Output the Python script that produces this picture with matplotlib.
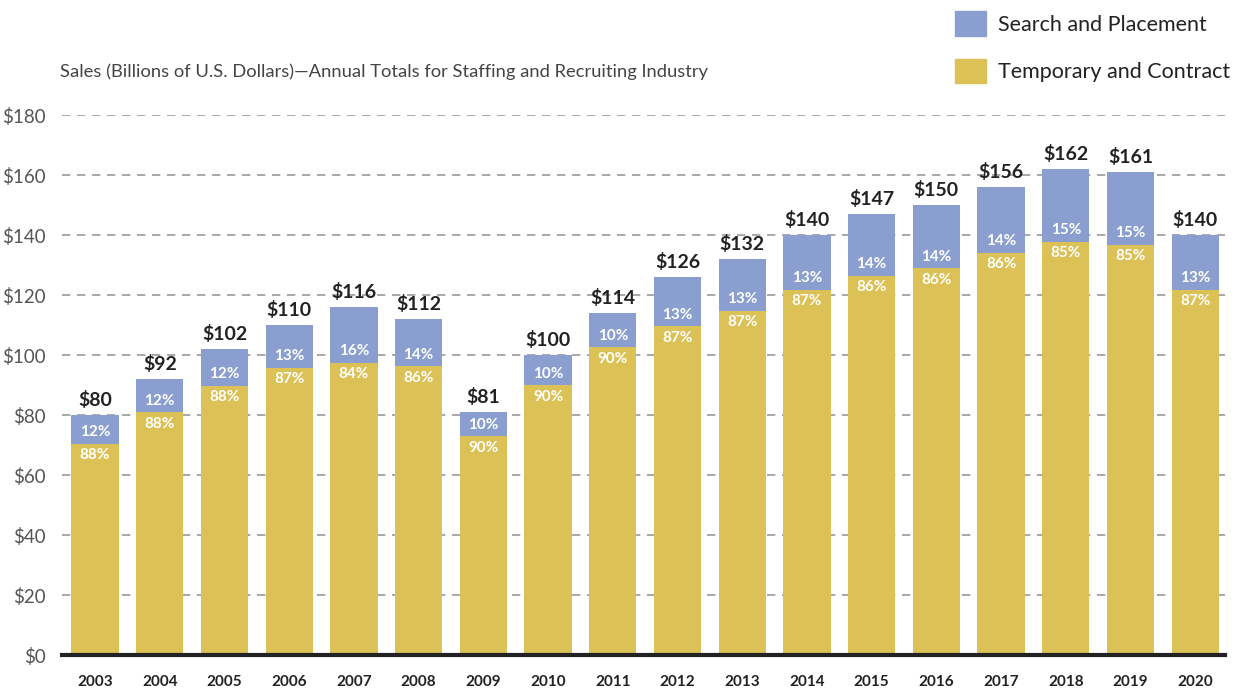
import matplotlib.pyplot as plt
import matplotlib.patches as mpatches
import numpy as np

plt.rcParams['font.family'] = ['Lato', 'DejaVu Sans']

years = ['2003', '2004', '2005', '2006', '2007', '2008', '2009', '2010', '2011',
         '2012', '2013', '2014', '2015', '2016', '2017', '2018', '2019', '2020']
totals = [80, 92, 102, 110, 116, 112, 81, 100, 114, 126, 132, 140, 147, 150, 156, 162, 161, 140]
search_pct = [12, 12, 12, 13, 16, 14, 10, 10, 10, 13, 13, 13, 14, 14, 14, 15, 15, 13]
temp_pct = [88, 88, 88, 87, 84, 86, 90, 90, 90, 87, 87, 87, 86, 86, 86, 85, 85, 87]
yticks = [0, 20, 40, 60, 80, 100, 120, 140, 160, 180]

blue = '#8a9fcf'
yellow = '#dcc156'

fig = plt.figure(figsize=(12.48, 6.91), dpi=100)
ax = fig.add_axes([0.0497, 0.052, 0.9319, 0.7815])

x = np.arange(len(years))
tot = np.array(totals, dtype=float)
temp = tot * np.array(temp_pct) / 100
search = tot - temp
w = 0.73

ax.bar(x, temp, width=w, color=yellow, zorder=2)
ax.bar(x, search, width=w, bottom=temp, color=blue, zorder=2)

for i in range(len(x)):
    ax.text(x[i], tot[i] + 2, f'${totals[i]}', ha='center', va='bottom',
            fontsize=14, fontweight='bold', color='#222222')
    ax.text(x[i], temp[i] + 1.5, f'{search_pct[i]}%', ha='center', va='bottom',
            fontsize=11, fontweight='bold', color='white', zorder=3)
    ax.text(x[i], temp[i] - 1.5, f'{temp_pct[i]}%', ha='center', va='top',
            fontsize=11, fontweight='bold', color='white', zorder=3)

ax.set_xlim(-0.51, 17.46)
ax.set_ylim(0, 180)
ax.set_yticks(yticks)
ax.set_yticklabels([f'${v}' for v in yticks], fontsize=13.5, color='#555555')
ax.set_xticks(x)
ax.set_xticklabels(years, fontsize=11, fontweight='bold', color='#222222')
ax.tick_params(axis='both', length=0)
ax.tick_params(axis='x', pad=14)
ax.tick_params(axis='y', pad=12)
ax.grid(axis='y', linestyle=(0, (5, 4)), color='#999999', linewidth=1.2, zorder=0)

for s in ['top', 'right', 'left']:
    ax.spines[s].set_visible(False)
ax.spines['bottom'].set_linewidth(3)
ax.spines['bottom'].set_color('#222222')
ax.spines['bottom'].set_zorder(4)

fig.text(0.048, 0.896, 'Sales (Billions of U.S. Dollars)\u2014Annual Totals for Staffing and Recruiting Industry',
         fontsize=13.2, color='#444444', va='center')

handles = [mpatches.Patch(color=blue, label='Search and Placement'),
           mpatches.Patch(color=yellow, label='Temporary and Contract')]
fig.legend(handles=handles, loc='upper left', bbox_to_anchor=(0.750, 1.012),
           frameon=False, fontsize=15.5, handlelength=1.4, handleheight=1.4,
           labelspacing=1.05, handletextpad=0.6, labelcolor='#222222')

fig.savefig('out.png', dpi=100)
